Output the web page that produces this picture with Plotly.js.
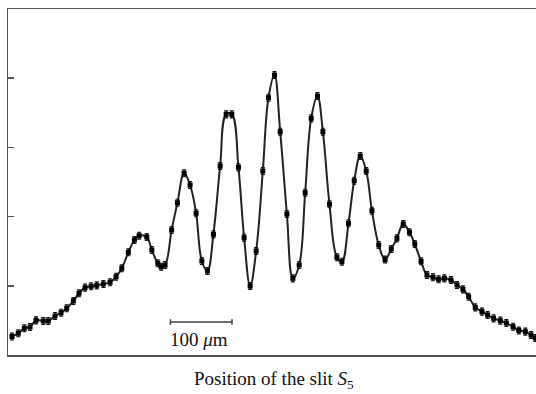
<!DOCTYPE html>
<html>
<head>
<meta charset="utf-8">
<script src="https://cdn.plot.ly/plotly-3.0.1.min.js"></script>
<style>html,body{margin:0;padding:0;background:#fff;}#chart{width:536px;height:394px;}</style>
</head>
<body>
<div id="chart"></div>
<script>
// Position of the slit S5 (micrometres)
const positionUm = [6.5,16.7,26.5,35.8,45.5,57.4,65.5,76.4,86.2,95.4,106.2,115.4,125.2,135.0,144.2,155.0,165.9,175.6,184.9,195.6,205.4,213.0,225.5,233.7,243.4,248.8,255.3,265.9,275.3,286.2,295.9,305.7,315.0,324.1,333.8,344.7,354.5,363.7,374.5,383.7,393.5,403.3,414.1,423.3,433.0,442.3,453.2,462.9,473.2,482.9,492.7,502.9,511.7,522.4,534.5,542.6,553.3,562.6,572.4,582.1,591.4,602.4,612.7,622.8,632.0,642.3,652.4,661.0,671.2,680.8,690.6,699.7,709.0,719.8,729.6,739.3,748.5,759.3,770.2,779.3,789.1,800.0,809.8,820.7,830.1,840.7,849.9,856.9];
// Measured intensity (arbitrary units)
const intensity = [0.267,0.314,0.386,0.405,0.501,0.491,0.491,0.564,0.611,0.675,0.780,0.892,0.973,0.993,1.007,1.026,1.051,1.131,1.253,1.484,1.662,1.724,1.705,1.517,1.325,1.276,1.301,1.806,2.201,2.626,2.457,2.048,1.358,1.214,1.744,2.731,3.478,3.478,2.712,1.695,0.997,1.503,2.659,3.718,4.046,3.227,2.038,1.108,1.301,2.345,3.420,3.743,3.227,2.178,1.412,1.348,1.903,2.519,2.876,2.659,2.085,1.590,1.380,1.532,1.686,1.893,1.773,1.604,1.354,1.156,1.123,1.094,1.108,1.084,1.012,0.949,0.842,0.689,0.626,0.578,0.530,0.496,0.462,0.409,0.354,0.337,0.289,0.246];
const yTicks = [1,2,3,4];
const scaleBarUm = [264, 364];
const scaleBarY = 0.477;

const curve = {
  x: positionUm, y: intensity, type: 'scatter', mode: 'lines',
  line: {color: '#222', width: 2, shape: 'spline', smoothing: 1.1},
  hoverinfo: 'skip', showlegend: false
};
const points = {
  x: positionUm, y: intensity, type: 'scatter', mode: 'markers',
  marker: {symbol: 'square', size: 5, color: '#000'},
  error_y: {type: 'constant', value: 0.05, thickness: 1.2, width: 2, color: '#111'},
  showlegend: false
};

const layout = {
  width: 536, height: 394,
  margin: {l: 8, r: 0, t: 9, b: 39},
  paper_bgcolor: '#fff', plot_bgcolor: '#fff',
  font: {family: 'Liberation Serif', color: '#111'},
  showlegend: false,
  xaxis: {
    range: [0, 858], showgrid: false, zeroline: false,
    showline: true, mirror: true, linecolor: '#555', linewidth: 1.5,
    ticks: '', showticklabels: false
  },
  yaxis: {
    range: [0, 5], showgrid: false, zeroline: false,
    showline: true, mirror: false, linecolor: '#555', linewidth: 1.5,
    tickvals: yTicks, ticks: 'inside', ticklen: 6, tickcolor: '#555', tickwidth: 1.5,
    showticklabels: false
  },
  shapes: [
    {type: 'line', xref: 'x', yref: 'y', x0: scaleBarUm[0], x1: scaleBarUm[1], y0: scaleBarY, y1: scaleBarY, line: {color: '#444', width: 1.5}},
    {type: 'line', xref: 'x', yref: 'y', x0: scaleBarUm[0], x1: scaleBarUm[0], y0: scaleBarY - 0.04, y1: scaleBarY + 0.04, line: {color: '#444', width: 1.5}},
    {type: 'line', xref: 'x', yref: 'y', x0: scaleBarUm[1], x1: scaleBarUm[1], y0: scaleBarY - 0.04, y1: scaleBarY + 0.04, line: {color: '#444', width: 1.5}}
  ],
  annotations: [
    {text: '100 <i>μ</i>m', xref: 'x', yref: 'y', x: 310, y: 0.22, showarrow: false,
     xanchor: 'center', yanchor: 'middle', font: {family: 'Liberation Serif', size: 19, color: '#111'}},
    {text: 'Position of the slit <i>S</i><sub>5</sub>', xref: 'paper', yref: 'paper',
     x: (274 - 8) / 528, y: (355 - 380) / 346, showarrow: false,
     xanchor: 'center', yanchor: 'middle', font: {family: 'Liberation Serif', size: 19, color: '#111'}}
  ]
};

Plotly.newPlot('chart', [curve, points], layout, {displayModeBar: false, staticPlot: true});
</script>
</body>
</html>
